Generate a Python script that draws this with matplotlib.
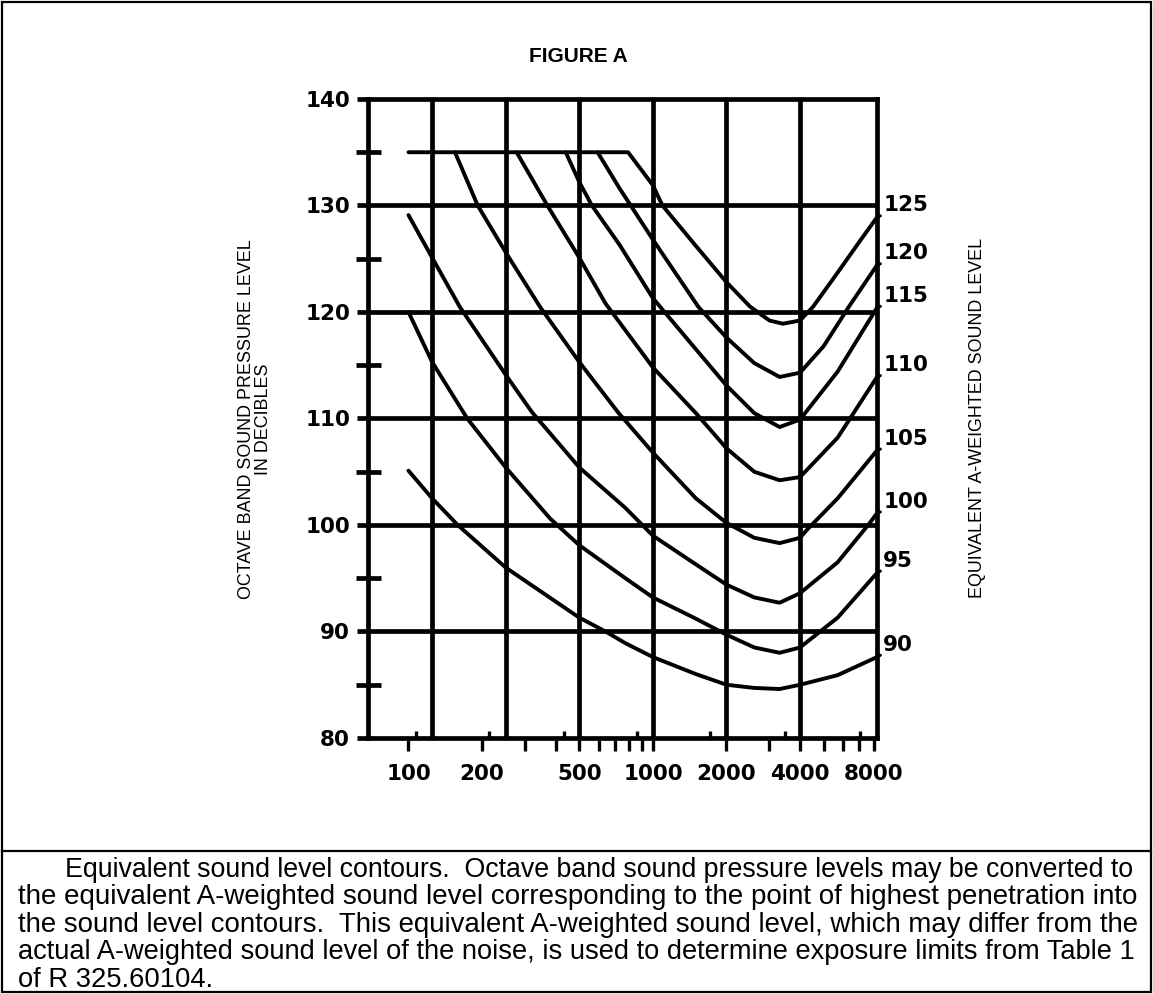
import matplotlib
matplotlib.use("Agg")
import matplotlib.pyplot as plt
from matplotlib.ticker import FixedLocator, FixedFormatter, NullFormatter
from matplotlib.patches import Rectangle
from matplotlib.lines import Line2D

# ---------------- data ----------------
contour_levels = [90, 95, 100, 105, 110, 115, 120, 125]

f_90 = [100, 125, 159, 250, 500, 640, 772, 1000, 1500, 2000, 2600, 3300, 4000, 5700, 8260]
db_90 = [105.1, 102.5, 100.0, 96.0, 91.3, 90.0, 88.9, 87.6, 86.0, 85.0, 84.7, 84.6, 85.0, 85.9, 87.6]

f_95 = [100, 125, 174, 250, 380, 500, 772, 1000, 1500, 2000, 2600, 3300, 4000, 5700, 8260]
db_95 = [120.0, 115.3, 110.0, 105.4, 100.6, 98.1, 95.0, 93.2, 91.2, 89.7, 88.5, 88.0, 88.5, 91.3, 95.5]

f_100 = [100, 125, 162, 250, 320, 500, 772, 1000, 1500, 2000, 2600, 3300, 4000, 5700, 7600, 8260]
db_100 = [129.1, 125.1, 120.5, 114.1, 110.6, 105.4, 101.6, 99.0, 96.3, 94.4, 93.2, 92.7, 93.6, 96.5, 100.0, 101.1]

f_105 = [155, 192, 250, 345, 500, 719, 1000, 1500, 2000, 2600, 3300, 4000, 4290, 5700, 8260]
db_105 = [135.0, 130.0, 125.6, 120.5, 115.3, 110.6, 106.8, 102.5, 100.2, 98.8, 98.3, 98.8, 99.6, 102.5, 107.0]

f_110 = [277, 370, 500, 640, 1000, 1500, 2000, 2600, 3300, 4000, 5700, 8260]
db_110 = [135.0, 130.0, 125.1, 120.8, 114.8, 110.5, 107.2, 105.0, 104.2, 104.5, 108.2, 113.9]

f_115 = [440, 500, 563, 731, 1000, 1500, 2000, 2600, 3300, 4000, 5700, 8260]
db_115 = [135.0, 132.2, 130.0, 126.3, 121.3, 116.5, 113.1, 110.5, 109.2, 109.9, 114.4, 120.4]

f_120 = [594, 731, 1000, 1533, 2000, 2600, 3300, 4000, 5000, 6340, 8260]
db_120 = [135.0, 131.6, 126.8, 120.5, 117.6, 115.2, 113.9, 114.3, 116.8, 120.5, 124.4]

f_125 = [100, 792, 1000, 1094, 1500, 2000, 2500, 3000, 3400, 4000, 4525, 5700, 7000, 8260]
db_125 = [135.0, 135.0, 131.9, 130.0, 126.2, 122.8, 120.5, 119.2, 118.9, 119.2, 120.5, 123.7, 126.6, 128.9]

curve_freqs = [f_90, f_95, f_100, f_105, f_110, f_115, f_120, f_125]
curve_dbs = [db_90, db_95, db_100, db_105, db_110, db_115, db_120, db_125]

grid_freqs = [125, 250, 500, 1000, 2000, 4000]
grid_levels = [90, 100, 110, 120, 130]

y_major = [80, 90, 100, 110, 120, 130, 140]
y_minor = [85, 95, 105, 115, 125, 135]

x_down_ticks = [100, 200, 300, 400, 500, 600, 700, 800, 900, 1000,
                2000, 3000, 4000, 5000, 6000, 7000, 8000]
x_label_map = {100: "100", 200: "200", 500: "500", 1000: "1000",
               2000: "2000", 4000: "4000", 8000: "8000"}
x_up_ticks = [107, 214, 434, 862, 1716, 3460, 7053]

title = "FIGURE A"
ylabel_left = "OCTAVE BAND SOUND PRESSURE LEVEL\nIN DECIBLES"
ylabel_right = "EQUIVALENT A-WEIGHTED SOUND LEVEL"
caption_lines = [
    "Equivalent sound level contours.  Octave band sound pressure levels may be converted to",
    "the equivalent A-weighted sound level corresponding to the point of highest penetration into",
    "the sound level contours.  This equivalent A-weighted sound level, which may differ from the",
    "actual A-weighted sound level of the noise, is used to determine exposure limits from Table 1",
    "of R 325.60104.",
]

# ---------------- figure ----------------
W, H = 1153, 994
fig = plt.figure(figsize=(W / 100, H / 100), dpi=100)

# frame boxes
fig.add_artist(Rectangle((2 / W, 2 / H), 1 - 4 / W, 1 - 4 / H, transform=fig.transFigure,
                         fill=False, lw=1.6, ec="black"))
fig.add_artist(Line2D([2 / W, 1 - 2 / W], [1 - 851 / H, 1 - 851 / H], transform=fig.transFigure,
                      lw=1.6, color="black"))

ax = fig.add_axes([368 / W, 1 - 738 / H, 509 / W, 639 / H])
ax.set_xscale("log")
ax.set_xlim(68.3, 8260)
ax.set_ylim(80, 140)

LW_GRID = 3.4
for s in ax.spines.values():
    s.set_linewidth(LW_GRID)

for g in grid_freqs:
    ax.axvline(g, color="black", lw=LW_GRID, zorder=1)
for g in grid_levels:
    ax.axhline(g, color="black", lw=LW_GRID, zorder=1)

for fr, db in zip(curve_freqs, curve_dbs):
    ax.plot(fr, db, color="black", lw=2.8, solid_capstyle="round", solid_joinstyle="round", zorder=3)

# ticks
num_font = dict(family="DejaVu Sans", weight="bold", size=15.5)
ax.yaxis.set_major_locator(FixedLocator(y_major))
ax.yaxis.set_minor_locator(FixedLocator(y_minor))
ax.set_yticklabels([str(v) for v in y_major], **num_font)
ax.yaxis.set_minor_formatter(NullFormatter())
ax.tick_params(axis="y", which="major", direction="out", length=8, width=LW_GRID, pad=5)
ax.tick_params(axis="y", which="minor", direction="inout", length=18, width=LW_GRID)

ax.xaxis.set_major_locator(FixedLocator(x_down_ticks))
ax.xaxis.set_major_formatter(FixedFormatter([x_label_map.get(t, "") for t in x_down_ticks]))
ax.xaxis.set_minor_locator(FixedLocator(x_up_ticks))
ax.xaxis.set_minor_formatter(NullFormatter())
for lab in ax.get_xticklabels():
    lab.set_fontfamily("DejaVu Sans")
    lab.set_fontweight("bold")
    lab.set_fontsize(15.5)
ax.tick_params(axis="x", which="major", direction="out", length=9, width=2.4, pad=10)
ax.tick_params(axis="x", which="minor", direction="in", length=5, width=2.4)

# right-hand contour labels
for lvl, db in zip(contour_levels, curve_dbs):
    end = db[-1]
    ax.annotate(str(lvl), xy=(1.0, end), xycoords=("axes fraction", "data"),
                xytext=(1.012, end + 1.1), textcoords=("axes fraction", "data"),
                ha="left", va="center", annotation_clip=False,
                fontfamily="DejaVu Sans", fontweight="bold", fontsize=15.5,
                arrowprops=dict(arrowstyle="-", lw=2.2, color="black", shrinkA=0, shrinkB=0))

# titles and axis labels
fig.text(578 / W, 1 - 57 / H, title, ha="center", va="center",
         fontfamily="Liberation Sans", fontweight="bold", fontsize=15)
fig.text(255 / W, 1 - 419 / H, ylabel_left, ha="center", va="center", rotation=90,
         fontfamily="Liberation Sans", fontsize=12.9, linespacing=1.0)
fig.text(977 / W, 1 - 418 / H, ylabel_right, ha="center", va="center", rotation=90,
         fontfamily="Liberation Sans", fontsize=12.9)

# caption: each full line is fitted to the text block width (justified look)
renderer = fig.canvas.get_renderer()
BASE_FS = 18.0
cap_left, cap_indent, cap_right = 18, 65, 1136
cap_base0, cap_dy = 877, 27.4
sizes = []
last = None
for i, line in enumerate(caption_lines):
    y = 1 - (cap_base0 + cap_dy * i) / H
    x0 = cap_indent if i == 0 else cap_left
    t = fig.text(x0 / W, y, line, ha="left", va="baseline",
                 fontfamily="Liberation Sans", fontsize=BASE_FS)
    if i < len(caption_lines) - 1:
        fs = BASE_FS
        for _ in range(3):
            wdt = t.get_window_extent(renderer).width
            fs = fs * (cap_right - x0) / wdt
            t.set_fontsize(fs)
        sizes.append(fs)
    else:
        last = t
last.set_fontsize(sum(sizes) / len(sizes))

fig.savefig("out.png", dpi=100)
